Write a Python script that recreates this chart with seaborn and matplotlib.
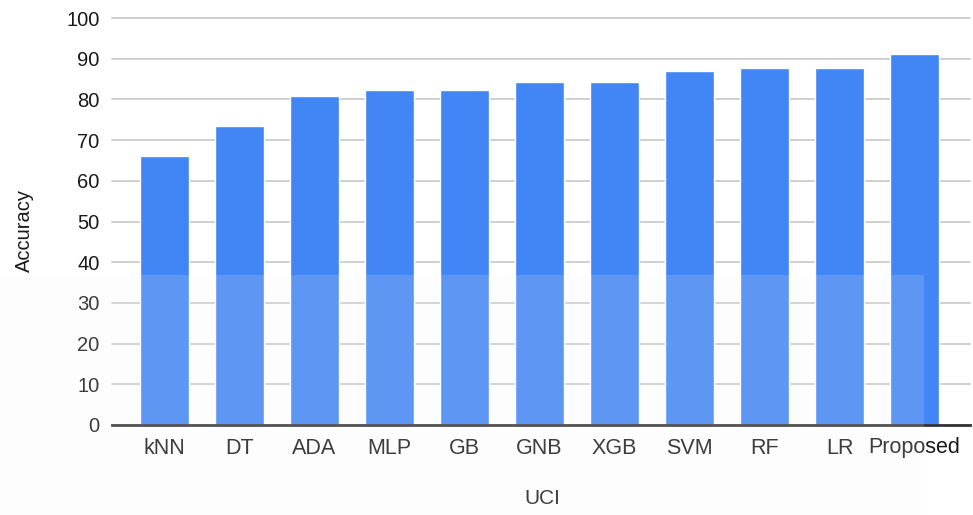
import matplotlib
matplotlib.use("Agg")
import matplotlib.pyplot as plt
import seaborn as sns
import pandas as pd
from matplotlib.patches import Rectangle

models = ["kNN", "DT", "ADA", "MLP", "GB", "GNB", "XGB", "SVM", "RF", "LR", "Proposed"]
accuracy = [66.0, 73.4, 80.9, 82.2, 82.2, 84.3, 84.3, 86.9, 87.7, 87.7, 91.1]
y_ticks = [0, 10, 20, 30, 40, 50, 60, 70, 80, 90, 100]

df = pd.DataFrame({"UCI": models, "Accuracy": accuracy})

sns.set_theme(style="white")
plt.rcParams["font.family"] = ["Liberation Sans", "DejaVu Sans"]

fig = plt.figure(figsize=(9.73, 5.15), dpi=100)
ax = fig.add_axes([112 / 973, 1 - 425 / 515, 858 / 973, (425 - 18) / 515])

sns.barplot(data=df, x="UCI", y="Accuracy", color="#4285F4", saturation=1,
            width=0.65, ax=ax, zorder=3)

ax.set_ylim(0, 100)
ax.set_xlim(-0.7, 10.74)
ax.set_yticks(y_ticks)
ax.yaxis.grid(True, color="#cccccc", linewidth=1.3, zorder=0)
ax.xaxis.grid(False)
for gl in ax.get_ygridlines():
    gl.set_clip_on(False)
for s in ["top", "right", "left"]:
    ax.spines[s].set_visible(False)
ax.spines["bottom"].set_color("#333333")
ax.spines["bottom"].set_linewidth(2)
ax.spines["bottom"].set_zorder(5)
ax.tick_params(axis="y", length=0, pad=9, labelsize=14.5, labelcolor="#1a1a1a")
ax.tick_params(axis="x", length=0, pad=9, labelsize=15.5, labelcolor="#1a1a1a")

ax.set_xlabel("UCI", fontsize=15, color="#1a1a1a")
ax.set_ylabel("Accuracy", fontsize=14.5, color="#1a1a1a")
ax.xaxis.set_label_coords((542 - 112) / 858, (425 - 499) / 407)
ax.yaxis.set_label_coords((24 - 112) / 858, (425 - 231) / 407)
ax.xaxis.label.set_va("center")
ax.yaxis.label.set_va("center")

# light scan overlay over lower part of the image
fig.patches.append(Rectangle((0, 0), 924 / 973, 1 - 275 / 515, transform=fig.transFigure,
                             facecolor="#f4f4f4", alpha=0.16, edgecolor="none", zorder=10))

fig.savefig("out.png", dpi=100)
